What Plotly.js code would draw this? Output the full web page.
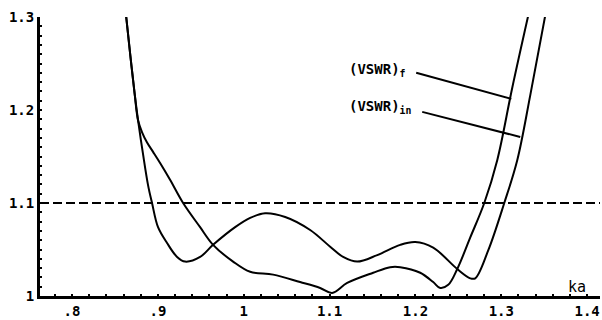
<!DOCTYPE html>
<html>
<head>
<meta charset="utf-8">
<script src="https://cdn.plot.ly/plotly-3.0.1.min.js"></script>
<style>html,body{margin:0;padding:0;background:#fff;}#chart{width:602px;height:320px;}</style>
</head>
<body>
<div id="chart"></div>
<script>
// ---- data ----
const kaF = [0.8629, 0.8680, 0.8730, 0.8769, 0.8816, 0.8874, 0.8944, 0.9026, 0.9142, 0.9294, 0.9492, 0.9643, 0.9876, 1.0075, 1.0343, 1.0657, 1.0890, 1.1030, 1.1205, 1.1508, 1.1706, 1.1823, 1.2056, 1.2207, 1.2289, 1.2382, 1.2487, 1.2639, 1.2802, 1.2953, 1.3128, 1.3315];
const vswrF = [1.302, 1.258, 1.217, 1.189, 1.176, 1.165, 1.155, 1.143, 1.125, 1.100, 1.074, 1.055, 1.037, 1.026, 1.023, 1.015, 1.0086, 1.0032, 1.014, 1.025, 1.031, 1.031, 1.025, 1.015, 1.0086, 1.012, 1.029, 1.063, 1.100, 1.146, 1.224, 1.302];

const kaIn = [0.8629, 0.8680, 0.8730, 0.8769, 0.8828, 0.8886, 0.8932, 0.9002, 0.9107, 0.9224, 0.9317, 0.9492, 0.9643, 0.9900, 1.0075, 1.0249, 1.0483, 1.0774, 1.1007, 1.1158, 1.1322, 1.1555, 1.1823, 1.1998, 1.2207, 1.2487, 1.2639, 1.2697, 1.2848, 1.3035, 1.3186, 1.3338, 1.3513];
const vswrIn = [1.302, 1.258, 1.217, 1.189, 1.152, 1.119, 1.100, 1.074, 1.057, 1.042, 1.037, 1.042, 1.055, 1.074, 1.084, 1.089, 1.085, 1.071, 1.053, 1.042, 1.037, 1.044, 1.055, 1.058, 1.052, 1.029, 1.019, 1.019, 1.049, 1.100, 1.146, 1.216, 1.302];

const refLevel = 1.1;
const xTickVals = [0.8, 0.9, 1.0, 1.1, 1.2, 1.3, 1.4];
const xTickText = ['.8', '.9', '1', '1.1', '1.2', '1.3', '1.4'];
const yTickVals = [1.0, 1.1, 1.2, 1.3];
const yTickText = ['1', '1.1', '1.2', '1.3'];

// label anchors: [text x, text y, leader start x, leader start y, leader end x, leader end y]
const labelF = [1.1205, 1.243, 1.2009, 1.240, 1.3117, 1.212];
const labelIn = [1.1205, 1.203, 1.2079, 1.198, 1.3221, 1.171];
const xName = 'ka';

const mono = 'DejaVu Sans Mono, Liberation Mono, monospace';

const traces = [
  {x: kaF, y: vswrF, mode: 'lines', line: {color: '#000', width: 2, shape: 'spline', smoothing: 1}, hoverinfo: 'skip'},
  {x: kaIn, y: vswrIn, mode: 'lines', line: {color: '#000', width: 2, shape: 'spline', smoothing: 1}, hoverinfo: 'skip'}
];

const layout = {
  width: 602, height: 320,
  margin: {l: 40, r: 2, t: 17, b: 24},
  paper_bgcolor: '#fff', plot_bgcolor: '#fff',
  showlegend: false,
  font: {family: mono, size: 14, color: '#000'},
  xaxis: {
    range: [0.7627, 1.415], showgrid: false, zeroline: false,
    showline: true, linecolor: '#000', linewidth: 3,
    tickvals: xTickVals, ticktext: xTickText,
    ticks: 'inside', ticklen: 2, tickwidth: 2, tickcolor: '#000',
    minor: {dtick: 0.02, tick0: 0.8, ticks: 'inside', ticklen: 2, tickwidth: 2, tickcolor: '#000'},
    tickfont: {family: mono, size: 14, color: '#000', weight: 'bold'}
  },
  yaxis: {
    range: [1.0, 1.3], showgrid: false, zeroline: false,
    showline: true, linecolor: '#000', linewidth: 3,
    tickvals: yTickVals, ticktext: yTickText,
    ticks: 'inside', ticklen: 2, tickwidth: 2, tickcolor: '#000',
    minor: {dtick: 0.01, tick0: 1.0, ticks: 'inside', ticklen: 2, tickwidth: 2, tickcolor: '#000'},
    tickfont: {family: mono, size: 14, color: '#000', weight: 'bold'}
  },
  shapes: [
    {type: 'line', xref: 'paper', yref: 'y', x0: 0, x1: 1, y0: refLevel, y1: refLevel,
     line: {color: '#000', width: 2, dash: '9px,4px'}},
    {type: 'line', xref: 'x', yref: 'y', x0: labelF[2], y0: labelF[3], x1: labelF[4], y1: labelF[5],
     line: {color: '#000', width: 2}},
    {type: 'line', xref: 'x', yref: 'y', x0: labelIn[2], y0: labelIn[3], x1: labelIn[4], y1: labelIn[5],
     line: {color: '#000', width: 2}}
  ],
  annotations: [
    {xref: 'x', yref: 'y', x: labelF[0], y: labelF[1], xanchor: 'left', yanchor: 'middle', showarrow: false,
     text: '(VSWR)<sub>f</sub>', font: {family: mono, size: 14, color: '#000', weight: 'bold'}},
    {xref: 'x', yref: 'y', x: labelIn[0], y: labelIn[1], xanchor: 'left', yanchor: 'middle', showarrow: false,
     text: '(VSWR)<sub>in</sub>', font: {family: mono, size: 14, color: '#000', weight: 'bold'}},
    {xref: 'x', yref: 'y', x: 1.3886, y: 1.0097, xanchor: 'center', yanchor: 'middle', showarrow: false,
     text: xName, font: {family: mono, size: 15, color: '#000'}}
  ]
};

Plotly.newPlot('chart', traces, layout, {displayModeBar: false, staticPlot: true});
</script>
</body>
</html>
